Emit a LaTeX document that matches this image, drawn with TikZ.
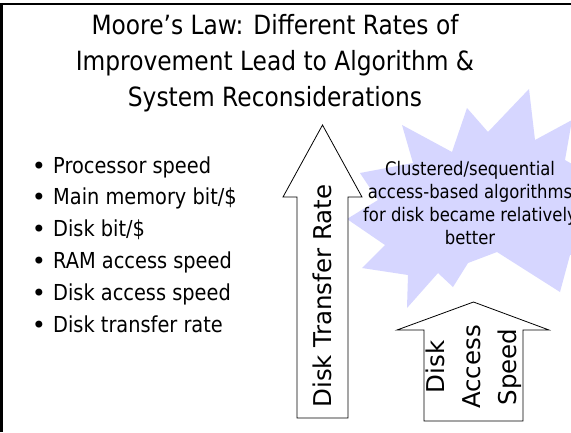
\documentclass[tikz,border=0pt]{standalone}
\usepackage{fontspec}
\setmainfont{DejaVu Sans}[FakeStretch=0.88]
\newfontfamily\boxfont{DejaVu Sans}
\definecolor{burst}{RGB}{214,214,255}
\tikzset{
  x=1pt, y=-1pt,
  titletext/.style={anchor=base, inner sep=0pt, font=\fontsize{26.5}{36}\selectfont},
  itemtext/.style={anchor=base west, inner sep=0pt, font=\fontsize{22}{31}\selectfont},
  bulletmark/.style={anchor=base, inner sep=0pt, font=\boxfont\fontsize{24}{31}\selectfont},
  bursttext/.style={align=center, inner sep=0pt, font=\fontsize{18.7}{22.7}\selectfont},
  arrowshape/.style={draw=black, fill=white, line width=0.8pt, line join=miter},
  arrowtext/.style={rotate=90, align=center, inner sep=0pt, font=\boxfont\fontsize{24.5}{36}\selectfont},
}
\begin{document}
\begin{tikzpicture}
\useasboundingbox (0,0) rectangle (571,432);
\fill[white] (0,0) rectangle (571,432);

% slide frame: top and left edges only
\draw[line width=2.6pt] (1.3,432) -- (1.3,3.8) -- (571,3.8);

% title
\node[titletext] (t1) at (275,34) {Moore’s Law: Different Rates of};
\node[titletext] (t2) at (275,70) {Improvement Lead to Algorithm \&};
\node[titletext] (t3) at (275,106) {System Reconsiderations};

% bullet list
\foreach \txt [count=\i] in {Processor speed, Main memory bit/\$, Disk bit/\$,
    RAM access speed, Disk access speed, Disk transfer rate} {
  \pgfmathsetmacro{\yy}{173+31.8*(\i-1)}
  \node[bulletmark] (b\i) at (39,\yy+1) {•};
  \node[itemtext] (i\i) at (53,\yy) {\txt};
}

% starburst callout
\fill[burst] (360,173) -- (413,163) -- (402,125) -- (452,152) -- (467,108)
  -- (488,132) -- (529,89) -- (535,140) -- (572,120) -- (565,160) -- (600,180)
  -- (580,215) -- (600,250) -- (570,255) -- (560,292) -- (497,252) -- (468,263)
  -- (453,287) -- (438,273) -- (407,308) -- (408,275) -- (362,268) -- (385,245)
  -- (347,219) -- (378,200) -- cycle;
\node[bursttext] (note) at (470,203)
  {Clustered/sequential\\access-based algorithms\\for disk became relatively\\better};

% tall block arrow
\draw[arrowshape] (297,418) -- (297,197) -- (283,197) -- (322.5,125)
  -- (362,197) -- (348,197) -- (348,418) -- cycle;
\node[arrowtext] (rate) at (322.5,296) {Disk Transfer Rate};

% short block arrow
\draw[arrowshape] (424,421) -- (424,330) -- (397,330) -- (473.5,302)
  -- (549,330) -- (523,330) -- (523,421) -- cycle;
\node[arrowtext] (speed) at (474,367) {Disk\\Access\\Speed};
\end{tikzpicture}
\end{document}
